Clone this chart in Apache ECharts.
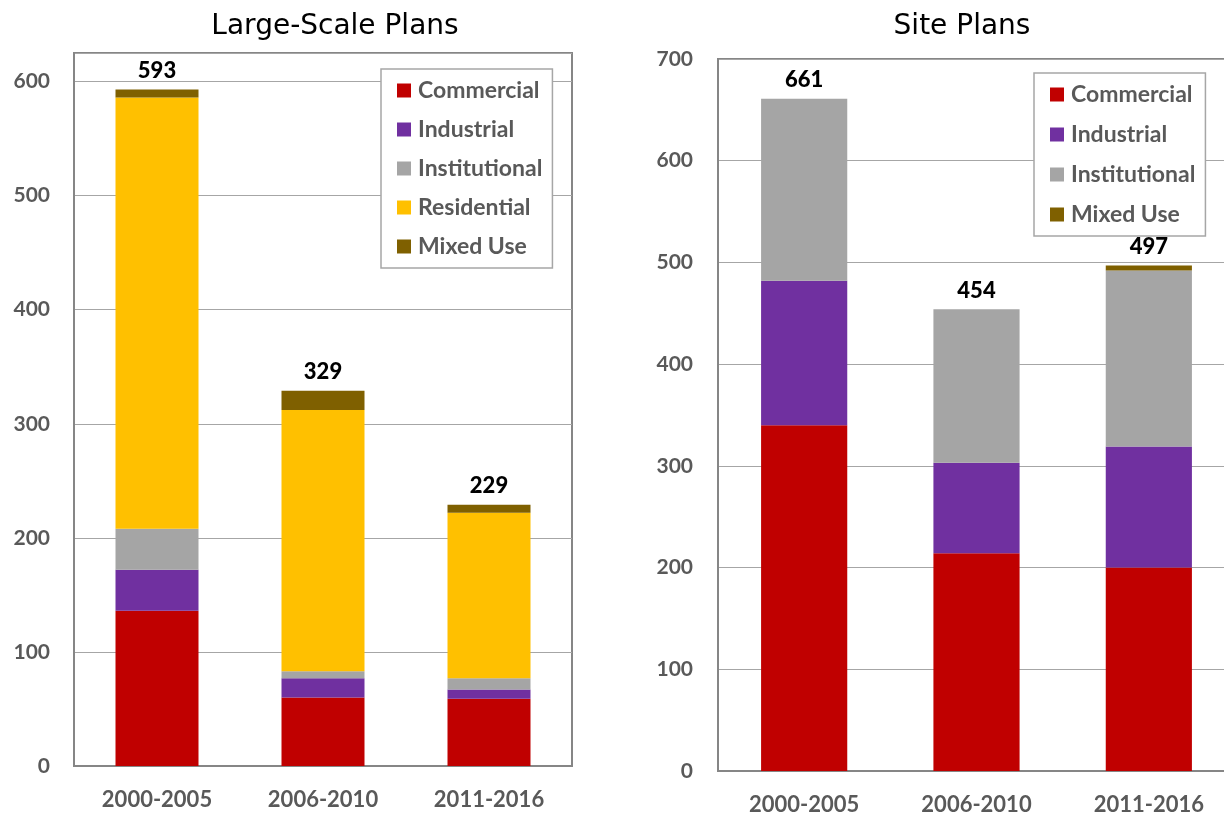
<!DOCTYPE html>
<html><head><meta charset="utf-8">
<script src="https://cdn.jsdelivr.net/npm/echarts@6/dist/echarts.min.js"></script>
<style>html,body{margin:0;padding:0;background:#fff}#c{width:1224px;height:814px}</style>
</head><body><div id="c"></div>
<script>
const categories = ['2000-2005', '2006-2010', '2011-2016'];
// Large-Scale Plans
const lsCommercial = [136, 60, 59];
const lsIndustrial = [36, 17, 8];
const lsInstitutional = [36, 6, 10];
const lsResidential = [378, 229, 145];
const lsMixed = [7, 17, 7];
// Site Plans
const spCommercial = [340, 214, 200];
const spIndustrial = [142, 89, 119];
const spInstitutional = [179, 151, 173];
const spMixed = [0, 0, 5];
const lsTicks = [0, 100, 200, 300, 400, 500, 600];
const spTicks = [0, 100, 200, 300, 400, 500, 600, 700];

const colors = {Commercial:'#C00000', Industrial:'#7030A0', Institutional:'#A5A5A5', Residential:'#FFC000', 'Mixed Use':'#7F6000'};
const FONT = 'Lato';
const sum = arrs => arrs[0].map((_, i) => arrs.reduce((s, a) => s + a[i], 0));
const lsTotals = sum([lsCommercial, lsIndustrial, lsInstitutional, lsResidential, lsMixed]);
const spTotals = sum([spCommercial, spIndustrial, spInstitutional, spMixed]);

function barSeries(name, data, idx, stack) {
  return {name, type:'bar', stack, xAxisIndex:idx, yAxisIndex:idx, data, barWidth:'50%',
    itemStyle:{color:colors[name]}, emphasis:{disabled:true}};
}
function totalSeries(data, idx) {
  return {name:'total'+idx, type:'line', xAxisIndex:idx, yAxisIndex:idx, data, symbol:'circle', symbolSize:1,
    itemStyle:{color:'rgba(0,0,0,0)'}, lineStyle:{width:0, opacity:0}, silent:true, z:10,
    label:{show:true, position:'top', distance:7, color:'#000', fontFamily:FONT, fontWeight:900, fontSize:22}};
}
const xLabelStyle = {color:'#595959', fontFamily:FONT, fontWeight:'bold', fontSize:22};
const yLabelStyle = {color:'#595959', fontFamily:FONT, fontWeight:'bold', fontSize:21};
const axLine = {show:true, lineStyle:{color:'#868686', width:2}};

const legendCommon = {orient:'vertical', icon:'rect', itemWidth:14, itemHeight:14,
  backgroundColor:'#fff', borderColor:'#A6A6A6', borderWidth:1.5,
  textStyle:{color:'#595959', fontFamily:FONT, fontWeight:'bold', fontSize:23, padding:[0,0,0,2]}};

const titleStyle = {fontFamily:'DejaVu Sans', fontWeight:'normal', fontSize:28, color:'#000'};
const option = {
  animation:false,
  title:[
    {text:'Large-Scale Plans', left:330, top:8, textAlign:'center', textStyle:titleStyle},
    {text:'Site Plans', left:957, top:8, textAlign:'center', textStyle:titleStyle}
  ],
  legend:[
    Object.assign({}, legendCommon, {left:381, top:69, itemGap:16, padding:[10,10,10,16],
      data:['Commercial','Industrial','Institutional','Residential','Mixed Use']}),
    Object.assign({}, legendCommon, {left:1034, top:73, itemGap:17, padding:[10,10,10,16],
      data:['Commercial','Industrial','Institutional','Mixed Use']})
  ],
  grid:[
    {left:74, top:53, width:498, height:713, show:true, borderColor:'#868686', borderWidth:2, outerBoundsMode:'none'},
    {left:718, top:59, width:517, height:712, show:true, borderColor:'#868686', borderWidth:2, outerBoundsMode:'none'}
  ],
  xAxis:[
    {type:'category', gridIndex:0, data:categories, axisTick:{show:false}, axisLine:axLine,
      axisLabel:Object.assign({margin:23}, xLabelStyle)},
    {type:'category', gridIndex:1, data:categories, axisTick:{show:false}, axisLine:axLine,
      axisLabel:Object.assign({margin:23}, xLabelStyle)}
  ],
  yAxis:[
    {type:'value', gridIndex:0, min:lsTicks[0], max:625, interval:100, axisLine:axLine, axisTick:{show:false},
      splitLine:{lineStyle:{color:'#A6A6A6', width:1}},
      axisLabel:Object.assign({margin:24, showMaxLabel:false, formatter:v => lsTicks.includes(v) ? v : ''}, yLabelStyle)},
    {type:'value', gridIndex:1, min:spTicks[0], max:spTicks[spTicks.length-1], interval:100, axisLine:axLine, axisTick:{show:false},
      splitLine:{lineStyle:{color:'#A6A6A6', width:1}},
      axisLabel:Object.assign({margin:25}, yLabelStyle)}
  ],
  series:[
    barSeries('Commercial', lsCommercial, 0, 'ls'),
    barSeries('Industrial', lsIndustrial, 0, 'ls'),
    barSeries('Institutional', lsInstitutional, 0, 'ls'),
    barSeries('Residential', lsResidential, 0, 'ls'),
    barSeries('Mixed Use', lsMixed, 0, 'ls'),
    totalSeries(lsTotals, 0),
    barSeries('Commercial', spCommercial, 1, 'sp'),
    barSeries('Industrial', spIndustrial, 1, 'sp'),
    barSeries('Institutional', spInstitutional, 1, 'sp'),
    barSeries('Mixed Use', spMixed, 1, 'sp'),
    totalSeries(spTotals, 1)
  ]
};
const chart = echarts.init(document.getElementById('c'));
chart.setOption(option);
</script></body></html>
